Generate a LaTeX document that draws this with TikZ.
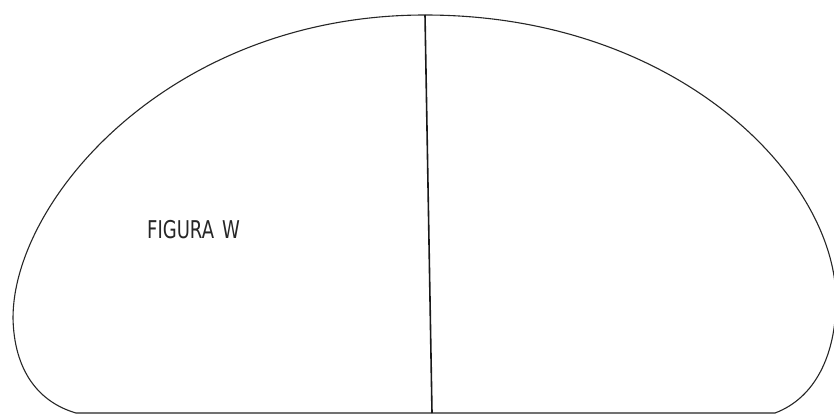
\documentclass[tikz,border=0pt]{standalone}
\usepackage{fontspec}
\setsansfont{DejaVu Sans}
\begin{document}
\begin{tikzpicture}[x=1pt,y=-1pt,
  outline/.style={draw=black!85,line width=1.1pt,line join=round},
  divider/.style={draw=black!90,line width=1.6pt},
  label/.style={font=\sffamily\fontsize{24}{24}\selectfont,text=black!85,inner sep=0pt}]
\fill[white] (0,0) rectangle (834,415);
\useasboundingbox (0,0) rectangle (834,415);
\begin{scope}
\clip (0,0) rectangle (834,415);
\coordinate (bl) at (76,413);
\coordinate (br) at (775,413);
\coordinate (le) at (13,318);
\coordinate (re) at (836,300);
\coordinate (top) at (425,15);
\draw[outline] (br) -- (bl)
  .. controls (38,402) and (14,370) .. (le)
  .. controls (13,200) and (170,15) .. (top)
  .. controls (680,15) and (836,180) .. (re)
  .. controls (836,355) and (815,398) .. (br);
\end{scope}
\coordinate (vbot) at (432,413);
\draw[divider] (top) -- (vbot);
\node[label,anchor=west] (fig) at (147,230) {\scalebox{0.75}[1.02]{FIGURA\hspace{0.45em}W}};
\end{tikzpicture}
\end{document}
